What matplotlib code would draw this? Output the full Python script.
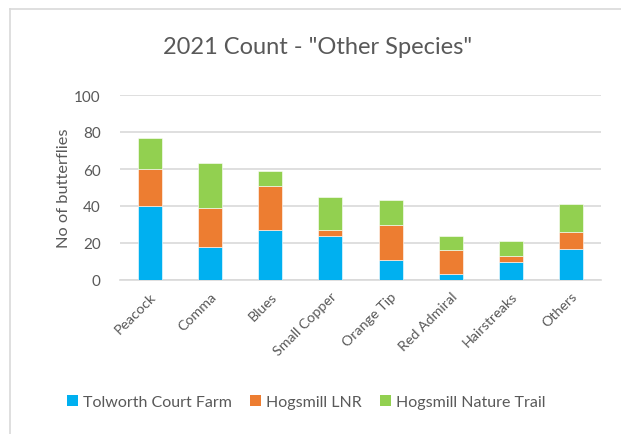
import matplotlib
matplotlib.use("Agg")
import matplotlib.pyplot as plt
from matplotlib.lines import Line2D
from matplotlib.patches import Patch
import numpy as np

categories = ["Peacock", "Comma", "Blues", "Small Copper", "Orange Tip",
              "Red Admiral", "Hairstreaks", "Others"]
tolworth = [40, 18, 27, 24, 11, 3, 10, 17]
hogsmill_lnr = [20, 21, 24, 3, 19, 13, 3, 9]
nature_trail = [17, 24, 8, 18, 13, 8, 8, 15]
series_names = ["Tolworth Court Farm", "Hogsmill LNR", "Hogsmill Nature Trail"]
colors = ["#00B0F0", "#ED7D31", "#92D050"]
yticks = [0, 20, 40, 60, 80, 100]

plt.rcParams["font.family"] = ["Lato", "DejaVu Sans"]
text_color = "#595959"

W, H = 621, 435
fig = plt.figure(figsize=(W / 100, H / 100), dpi=100)
ax = fig.add_axes([120 / W, 1 - 281 / H, 481 / W, 185 / H])

x = np.arange(len(categories))
bottom = np.zeros(len(categories))
for vals, col, name in zip([tolworth, hogsmill_lnr, nature_trail], colors, series_names):
    ax.bar(x, vals, width=0.4, bottom=bottom, color=col, label=name,
           edgecolor="white", linewidth=0.4, zorder=3)
    bottom += np.array(vals)

ax.set_xlim(-0.5, len(categories) - 0.5)
ax.set_ylim(0, 100)
ax.set_yticks(yticks)
ax.yaxis.grid(True, color="#d9d9d9", linewidth=1.2, zorder=0)
ax.set_axisbelow(True)
for s in ["top", "right", "left"]:
    ax.spines[s].set_visible(False)
ax.spines["bottom"].set_color("#d9d9d9")
ax.spines["bottom"].set_linewidth(1.2)
ax.tick_params(axis="both", length=0, colors=text_color, labelsize=11)
ax.tick_params(axis="y", pad=14)
ax.set_xticks(x)
ax.set_xticklabels(categories, rotation=45, ha="right", va="top",
                   rotation_mode="anchor", fontsize=10.3)
ax.tick_params(axis="x", pad=7)
ax.set_ylabel("No of butterflies", color=text_color, fontsize=11.8, labelpad=2)

fig.text(318 / W, 1 - 47 / H, '2021 Count - "Other Species"', ha="center",
         va="center", fontsize=17, color=text_color)

handles = [Patch(facecolor=c, edgecolor="none") for c in colors]
fig.legend(handles, series_names, loc="center", ncol=3,
           bbox_to_anchor=(306 / W, 1 - 403 / H), frameon=False,
           fontsize=11.5, handlelength=0.7, handleheight=0.7,
           handletextpad=0.3, columnspacing=1.15, labelcolor=text_color)

# chart-area outline along the top and left edges
fig.add_artist(Line2D([10 / W, 10 / W], [0, 1 - 10 / H], transform=fig.transFigure,
                      color="#d9d9d9", linewidth=1.2))
fig.add_artist(Line2D([10 / W, 1], [1 - 10 / H, 1 - 10 / H], transform=fig.transFigure,
                      color="#d9d9d9", linewidth=1.2))

fig.savefig("out.png", dpi=100)
